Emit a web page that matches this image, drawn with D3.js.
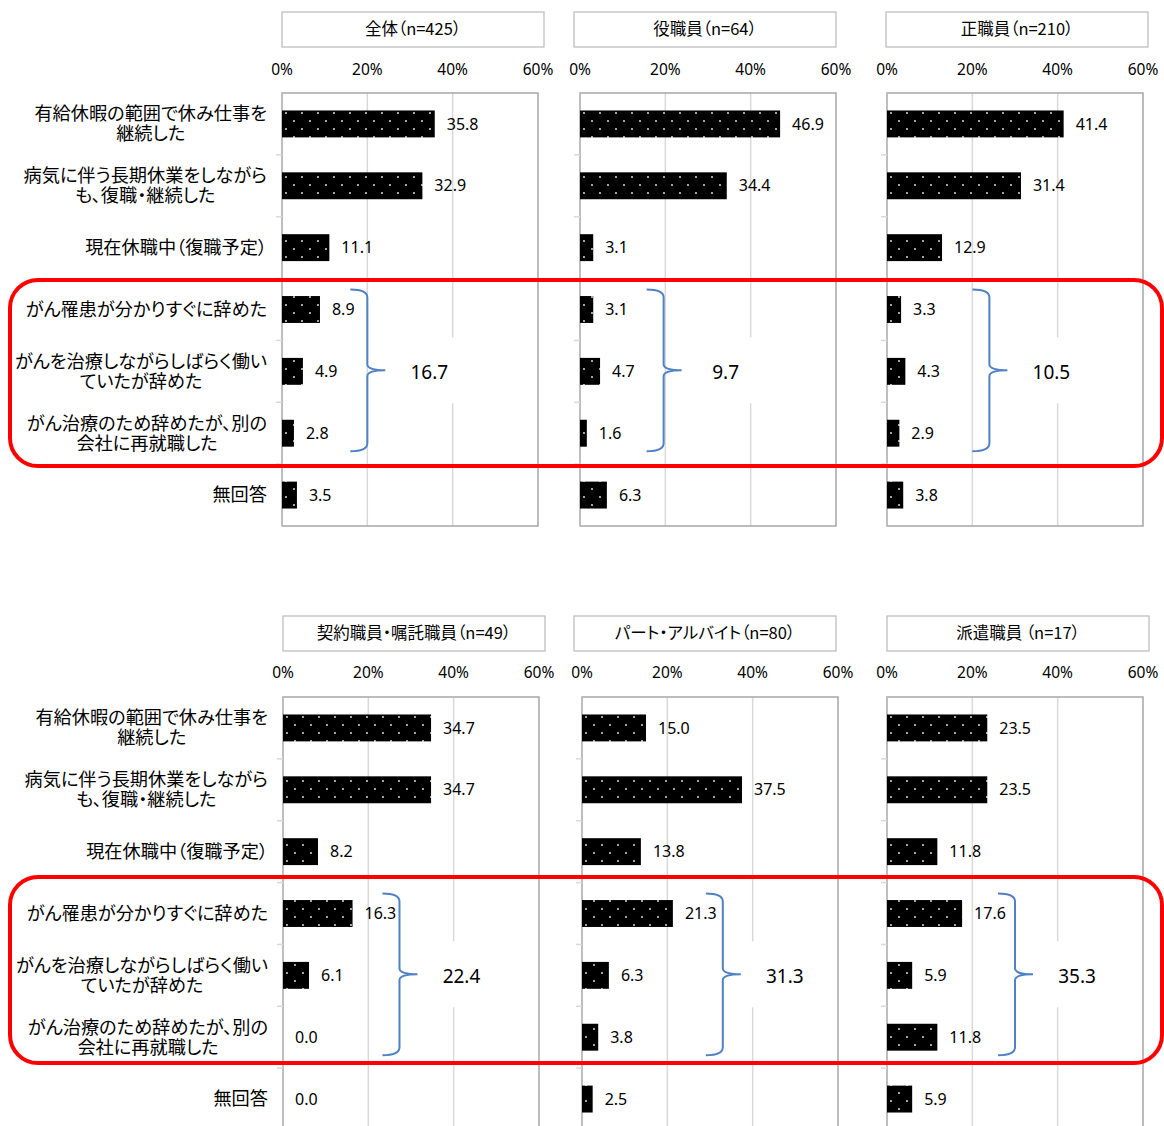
<!DOCTYPE html>
<html>
<head>
<meta charset="utf-8">
<script src="https://cdn.jsdelivr.net/npm/d3@7"></script>
<style>
body { margin: 0; background: #fff; }
svg { display: block; }
.jp { font-feature-settings: "palt"; }
</style>
</head>
<body>
<script>
// ---------- data ----------
var categories = [
  "有給休暇の範囲で休み仕事を|継続した",
  "病気に伴う長期休業をしながら|も、復職・継続した",
  "現在休職中（復職予定）",
  "がん罹患が分かりすぐに辞めた",
  "がんを治療しながらしばらく働い|ていたが辞めた",
  "がん治療のため辞めたが、別の|会社に再就職した",
  "無回答"
];

var panelTitles = ["全体（n=425）", "役職員（n=64）", "正職員（n=210）",
  "契約職員・嘱託職員（n=49）", "パート・アルバイト（n=80）", "派遣職員 （n=17）"];

var allValues     = [35.8, 32.9, 11.1, 8.9, 4.9, 2.8, 3.5];
var managerValues = [46.9, 34.4, 3.1, 3.1, 4.7, 1.6, 6.3];
var regularValues = [41.4, 31.4, 12.9, 3.3, 4.3, 2.9, 3.8];
var contractValues = [34.7, 34.7, 8.2, 16.3, 6.1, 0.0, 0.0];
var partTimeValues = [15.0, 37.5, 13.8, 21.3, 6.3, 3.8, 2.5];
var dispatchValues = [23.5, 23.5, 11.8, 17.6, 5.9, 11.8, 5.9];

// sum of the three "quit" rows, and where the brace sits (in % on the axis)
var quitTotals = [16.7, 9.7, 10.5, 22.4, 31.3, 35.3];
var braceAt = [20, 19.6, 24, 27.3, 33, 30];

var tickValues = [0, 20, 40, 60];

var series = [allValues, managerValues, regularValues, contractValues, partTimeValues, dispatchValues];

// ---------- layout ----------
var W = 1164, H = 1126;
var plotW = 256, plotH = 433;
var rows = [
  {top: 93, head: 12, tick: 70, cols: [282, 580, 887], heads: [282, 574, 886], labelRight: 267, redTop: 280, redBottom: 466},
  {top: 697, head: 616, tick: 673, cols: [283, 582, 887], heads: [283, 574, 887], labelRight: 268, redTop: 877, redBottom: 1063}
];
var jpFont = "'Noto Sans CJK JP', 'Noto Sans', sans-serif";
var numFont = "'Noto Sans', 'Open Sans', sans-serif";

var svg = d3.select("body").append("svg")
  .attr("width", W)
  .attr("height", H);

// dotted pattern for the bars
var pat = svg.append("defs").append("pattern")
  .attr("id", "dots")
  .attr("patternUnits", "userSpaceOnUse")
  .attr("width", 16)
  .attr("height", 16);
pat.append("rect").attr("width", 16).attr("height", 16).attr("fill", "#000");
pat.append("circle").attr("cx", 4).attr("cy", 4).attr("r", 0.9).attr("fill", "#f2f2f2");
pat.append("circle").attr("cx", 12).attr("cy", 12).attr("r", 0.9).attr("fill", "#f2f2f2");

var x = d3.scaleLinear().domain([0, 60]).range([0, plotW]);
var y = d3.scaleBand()
  .domain(d3.range(categories.length))
  .range([0, plotH])
  .paddingInner(0.565)
  .paddingOuter(0.2825);

// ---------- category labels (left side of each row) ----------
function drawLabels(row) {
  var g = svg.append("g").attr("transform", "translate(0," + row.top + ")");
  categories.forEach(function(c, i) {
    var lines = c.split("|");
    var t = g.append("text")
      .attr("class", "jp")
      .attr("font-family", jpFont)
      .attr("font-size", 18.2)
      .attr("fill", "#000")
      .attr("text-anchor", "middle");
    var cy = y(i) + y.bandwidth() / 2 - (lines.length - 1) * 10;
    lines.forEach(function(l, j) {
      t.append("tspan").attr("y", cy + j * 20).attr("dy", "0.35em").text(l);
    });
    var wMax = 0;
    t.selectAll("tspan").each(function() { wMax = Math.max(wMax, this.getComputedTextLength()); });
    t.selectAll("tspan").attr("x", row.labelRight - wMax / 2);
  });
}

// ---------- one panel ----------
function drawPanel(p) {
  var row = rows[Math.floor(p / 3)];
  var col = p % 3;
  var x0 = row.cols[col];
  var vals = series[p];

  // header box
  svg.append("rect")
    .attr("x", row.heads[col]).attr("y", row.head)
    .attr("width", 262).attr("height", 35)
    .attr("fill", "#fff").attr("stroke", "#bfbfbf").attr("stroke-width", 1.3);
  svg.append("text")
    .attr("class", "jp")
    .attr("x", row.heads[col] + 131).attr("y", row.head + 17.5)
    .attr("dy", "0.35em")
    .attr("text-anchor", "middle")
    .attr("font-family", jpFont)
    .attr("font-size", 16.5)
    .text(panelTitles[p]);

  // tick labels on top
  svg.append("g").selectAll("text")
    .data(tickValues)
    .enter().append("text")
    .attr("x", function(d) { return x0 + x(d); })
    .attr("y", row.tick)
    .attr("dy", "0.35em")
    .attr("text-anchor", "middle")
    .attr("font-family", numFont)
    .attr("font-size", 15.5)
    .text(function(d) { return d + "%"; });

  var g = svg.append("g").attr("transform", "translate(" + x0 + "," + row.top + ")");

  // grid lines
  g.selectAll(".grid")
    .data(tickValues.slice(1, -1))
    .enter().append("line")
    .attr("x1", function(d) { return x(d); })
    .attr("x2", function(d) { return x(d); })
    .attr("y1", 0).attr("y2", plotH)
    .attr("stroke", "#d9d9d9").attr("stroke-width", 1.5);

  // frame
  g.append("rect")
    .attr("width", plotW).attr("height", plotH)
    .attr("fill", "none").attr("stroke", "#a6a6a6").attr("stroke-width", 1.5);
  g.append("line")
    .attr("x1", 0).attr("x2", 0).attr("y1", 0).attr("y2", plotH)
    .attr("stroke", "#bfbfbf").attr("stroke-width", 1.5);

  // small category ticks
  g.selectAll(".ctick")
    .data(d3.range(1, categories.length))
    .enter().append("line")
    .attr("x1", -6).attr("x2", 0)
    .attr("y1", function(d) { return y(d) - y.step() * 0.565 / 2; })
    .attr("y2", function(d) { return y(d) - y.step() * 0.565 / 2; })
    .attr("stroke", "#d9d9d9").attr("stroke-width", 1.5);

  // bars
  g.selectAll(".bar")
    .data(vals)
    .enter().append("rect")
    .attr("x", 0)
    .attr("y", function(d, i) { return y(i); })
    .attr("width", function(d) { return x(d); })
    .attr("height", y.bandwidth())
    .attr("fill", "url(#dots)");

  // values
  g.selectAll(".val")
    .data(vals)
    .enter().append("text")
    .attr("x", function(d) { return x(d) + 12; })
    .attr("y", function(d, i) { return y(i) + y.bandwidth() / 2; })
    .attr("dy", "0.35em")
    .attr("font-family", numFont)
    .attr("font-size", 16)
    .text(function(d) { return d.toFixed(1); });

  // brace around the three "quit" rows
  var xs = x(braceAt[p]);
  var top = y(3) + y.bandwidth() / 2 - 20;
  var bot = y(5) + y.bandwidth() / 2 + 18;
  var mid = (top + bot) / 2;
  var path = d3.path();
  path.moveTo(xs - 17, top);
  path.quadraticCurveTo(xs, top, xs, top + 8);
  path.lineTo(xs, mid - 6);
  path.quadraticCurveTo(xs, mid, xs + 18, mid);
  path.quadraticCurveTo(xs, mid, xs, mid + 6);
  path.lineTo(xs, bot - 8);
  path.quadraticCurveTo(xs, bot, xs - 17, bot);
  g.append("path")
    .attr("d", path.toString())
    .attr("fill", "none")
    .attr("stroke", "#4f81c4")
    .attr("stroke-width", 2);

  // total text on a white box (it hides the grid line)
  g.append("rect")
    .attr("x", xs + 25).attr("y", mid - 33)
    .attr("width", 75).attr("height", 66)
    .attr("fill", "#fff");
  g.append("text")
    .attr("x", xs + 62).attr("y", mid + 2)
    .attr("dy", "0.35em")
    .attr("text-anchor", "middle")
    .attr("font-family", numFont)
    .attr("font-size", 19)
    .text(quitTotals[p].toFixed(1));
}

drawLabels(rows[0]);
drawLabels(rows[1]);
for (var p = 0; p < 6; p++) drawPanel(p);

// red rounded boxes around the quit rows
rows.forEach(function(row) {
  svg.append("rect")
    .attr("x", 10).attr("y", row.redTop)
    .attr("width", 1152).attr("height", row.redBottom - row.redTop)
    .attr("rx", 28).attr("ry", 28)
    .attr("fill", "none")
    .attr("stroke", "#ff0000")
    .attr("stroke-width", 4);
});
</script>
</body>
</html>
